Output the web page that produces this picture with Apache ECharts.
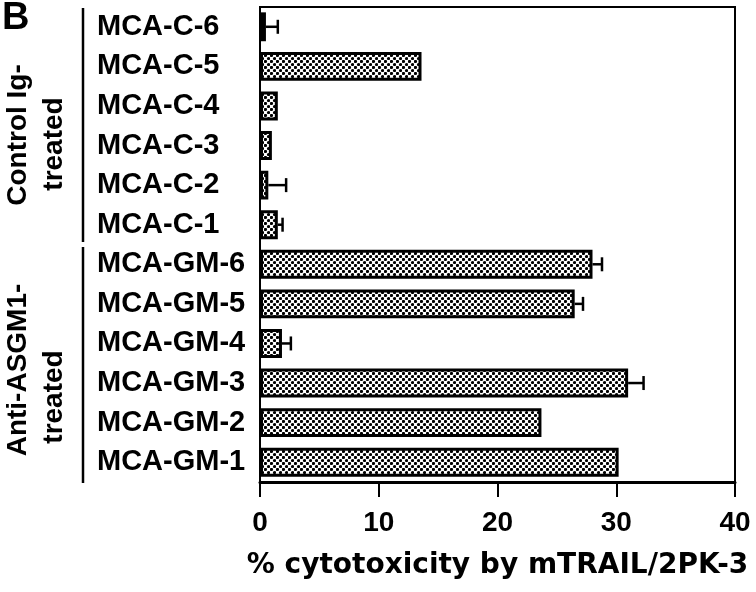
<!DOCTYPE html>
<html>
<head>
<meta charset="utf-8">
<script src="https://cdn.jsdelivr.net/npm/echarts@6/dist/echarts.min.js"></script>
<style>
  html, body { margin: 0; padding: 0; background: #fff; }
  #chart { width: 756px; height: 592px; }
</style>
</head>
<body>
<div id="chart"></div>
<script>
// data, top to bottom
var categories = ['MCA-C-6', 'MCA-C-5', 'MCA-C-4', 'MCA-C-3', 'MCA-C-2', 'MCA-C-1',
                  'MCA-GM-6', 'MCA-GM-5', 'MCA-GM-4', 'MCA-GM-3', 'MCA-GM-2', 'MCA-GM-1'];
var values = [0.5, 13.6, 1.5, 1.0, 0.7, 1.5, 28.0, 26.5, 1.85, 31.0, 23.7, 30.2];
var errors = [1.0, 0, 0, 0, 1.5, 0.4, 0.8, 0.7, 0.75, 1.3, 0, 0];
var xTicks = [0, 10, 20, 30, 40];
var groupLabels = [['Control Ig-', 'treated'], ['Anti-ASGM1-', 'treated']];
var axisTitle = '% cytotoxicity by mTRAIL/2PK-3';

// dotted fill for the bars
function makePattern() {
  var c = document.createElement('canvas');
  c.width = 6; c.height = 6;
  var ctx = c.getContext('2d');
  ctx.fillStyle = '#fff';
  ctx.fillRect(0, 0, 6, 6);
  ctx.fillStyle = '#000';
  ctx.beginPath(); ctx.arc(1.5, 1.5, 1.6, 0, Math.PI * 2); ctx.fill();
  ctx.beginPath(); ctx.arc(4.5, 4.5, 1.6, 0, Math.PI * 2); ctx.fill();
  return c;
}

var errData = values.map(function (v, i) { return [v, i, errors[i]]; });

var chart = echarts.init(document.getElementById('chart'));
var bold = 'bold';
var labelFont = 'bold 28px "Liberation Sans"';
var option = {
  animation: false,
  grid: {
    left: 260, right: 21, top: 7, bottom: 110,
    show: true, borderColor: '#000', borderWidth: 2
  },
  xAxis: {
    type: 'value', min: 0, max: 40, interval: 10,
    splitLine: { show: false },
    axisLine: { show: true, lineStyle: { color: '#000', width: 3 } },
    axisTick: { show: true, length: 15, lineStyle: { color: '#000', width: 2 } },
    axisLabel: {
      margin: 27, color: '#000', fontSize: 28, fontWeight: bold,
      fontFamily: 'Liberation Sans',
      formatter: function (v) { return xTicks.indexOf(v) >= 0 ? String(v) : ''; }
    },
    name: axisTitle, nameLocation: 'middle', nameGap: 70,
    nameTextStyle: { color: '#000', fontSize: 28, fontWeight: bold, fontFamily: 'DejaVu Sans' }
  },
  yAxis: {
    type: 'category', data: categories, inverse: true,
    axisLine: { show: true, lineStyle: { color: '#000', width: 2 } },
    axisTick: { show: false },
    axisLabel: {
      align: 'left', margin: 163, color: '#000', fontSize: 29, fontWeight: bold,
      fontFamily: 'Liberation Sans'
    }
  },
  series: [
    {
      type: 'bar', data: values, barWidth: '73%',
      itemStyle: {
        color: { image: makePattern(), repeat: 'repeat' },
        borderColor: '#000', borderWidth: 3
      }
    },
    {
      type: 'custom', data: errData, z: 5,
      renderItem: function (params, api) {
        var e = api.value(2);
        if (!e) return null;
        var y = api.value(1);
        var p0 = api.coord([api.value(0), y]);
        var p1 = api.coord([api.value(0) + e, y]);
        var s = { stroke: '#000', lineWidth: 2.5 };
        return {
          type: 'group',
          children: [
            { type: 'line', shape: { x1: p0[0], y1: p0[1], x2: p1[0], y2: p1[1] }, style: s },
            { type: 'line', shape: { x1: p1[0], y1: p1[1] - 7, x2: p1[0], y2: p1[1] + 7 }, style: s }
          ]
        };
      }
    }
  ],
  graphic: [
    { type: 'text', left: 2, top: 0,
      style: { text: 'B', font: 'bold 38px "Liberation Sans"', fill: '#000' } },
    { type: 'line', shape: { x1: 83, y1: 8, x2: 83, y2: 242 }, style: { stroke: '#000', lineWidth: 2.5 } },
    { type: 'line', shape: { x1: 83, y1: 247, x2: 83, y2: 483 }, style: { stroke: '#000', lineWidth: 2.5 } },
    { type: 'text', x: 18, y: 135, rotation: Math.PI / 2,
      style: { text: groupLabels[0][0], align: 'center', verticalAlign: 'middle', font: labelFont, fill: '#000' } },
    { type: 'text', x: 54, y: 144, rotation: Math.PI / 2,
      style: { text: groupLabels[0][1], align: 'center', verticalAlign: 'middle', font: labelFont, fill: '#000' } },
    { type: 'text', x: 18, y: 370, rotation: Math.PI / 2,
      style: { text: groupLabels[1][0], align: 'center', verticalAlign: 'middle', font: labelFont, fill: '#000' } },
    { type: 'text', x: 54, y: 397, rotation: Math.PI / 2,
      style: { text: groupLabels[1][1], align: 'center', verticalAlign: 'middle', font: labelFont, fill: '#000' } }
  ]
};
chart.setOption(option);
</script>
</body>
</html>
